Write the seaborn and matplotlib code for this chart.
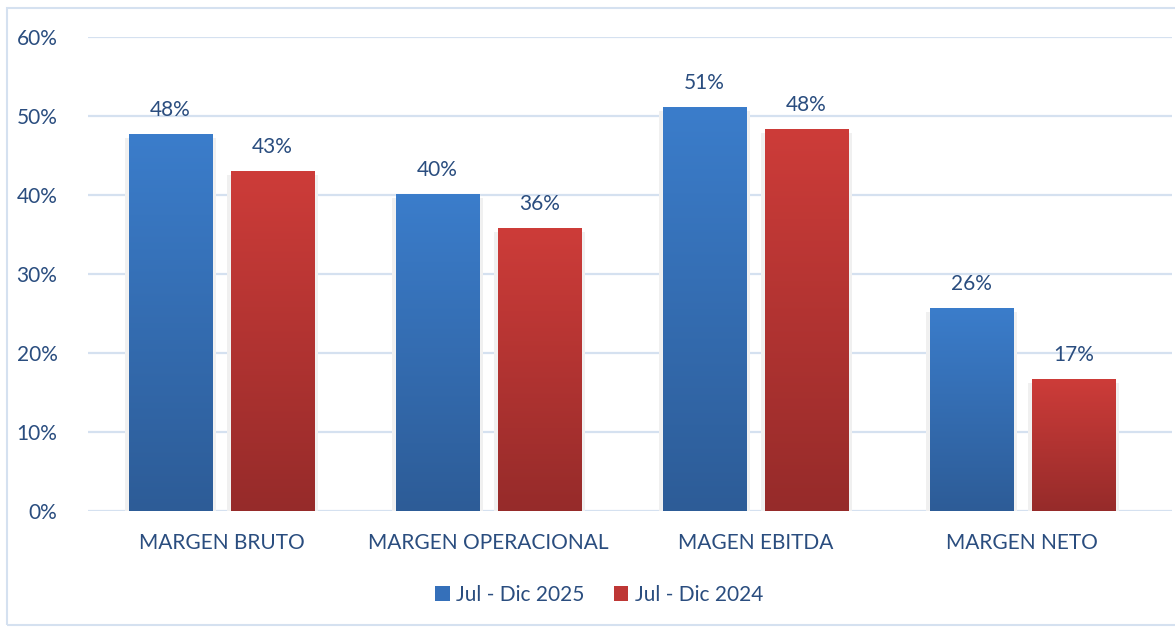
import numpy as np
import pandas as pd
import seaborn as sns
import matplotlib.pyplot as plt
from matplotlib.colors import LinearSegmentedColormap
from matplotlib.patches import Rectangle

categories = ["MARGEN BRUTO", "MARGEN OPERACIONAL", "MAGEN EBITDA", "MARGEN NETO"]
series = ["Jul - Dic 2025", "Jul - Dic 2024"]
values_2025 = [0.477, 0.401, 0.511, 0.257]
values_2024 = [0.430, 0.358, 0.484, 0.167]
labels_2025 = ["48%", "40%", "51%", "26%"]
labels_2024 = ["43%", "36%", "48%", "17%"]
yticks = [0.0, 0.1, 0.2, 0.3, 0.4, 0.5, 0.6]
ytick_labels = ["0%", "10%", "20%", "30%", "40%", "50%", "60%"]

TEXT = "#2A4D7F"
GRID = "#D5E1F0"
gradients = {
    series[0]: ("#2D5C97", "#3B7DCB"),
    series[1]: ("#962B2A", "#CD3C39"),
}
solid = {series[0]: "#3570BA", series[1]: "#BE3735"}

df = pd.DataFrame({
    "cat": categories * 2,
    "serie": [series[0]] * 4 + [series[1]] * 4,
    "val": values_2025 + values_2024,
})

sns.set_theme(style="white")
plt.rcParams["font.family"] = ["Lato", "DejaVu Sans"]

fig = plt.figure(figsize=(11.75, 6.29), dpi=100)
ax = fig.add_axes([0.0749, 0.1876, 0.9225, 0.7536])

sns.barplot(data=df, x="cat", y="val", hue="serie", palette=solid,
            width=0.764, gap=0.186, ax=ax, legend=False, zorder=3)

XLIM = (-0.5, 3.56)
ax.set_xlim(*XLIM)
ax.set_ylim(0, 0.6)

# gradient fill + soft shadow for every bar
for name, cont, labs in zip(series, ax.containers, [labels_2025, labels_2024]):
    cmap = LinearSegmentedColormap.from_list(name, gradients[name])
    for p in cont:
        x0, w, h = p.get_x(), p.get_width(), p.get_height()
        sh = Rectangle((x0 - 0.016, -0.003), w + 0.032, h - 0.002,
                       facecolor="#F0F0F0", edgecolor="none", zorder=2)
        ax.add_patch(sh)
        grad = np.linspace(0, 1, 256).reshape(-1, 1)
        im = ax.imshow(grad, extent=[x0, x0 + w, 0, h], origin="lower",
                       aspect="auto", cmap=cmap, zorder=4)
        im.set_clip_path(p)
    ax.bar_label(cont, labels=labs, padding=10, fontsize=15, color=TEXT)

ax.set_xlim(*XLIM)
ax.set_ylim(0, 0.6)
ax.set_yticks(yticks)
ax.set_yticklabels(ytick_labels)
ax.set_xlabel("")
ax.set_ylabel("")
ax.yaxis.grid(True, color=GRID, linewidth=1.6, zorder=0)
ax.set_axisbelow(True)
for s in ax.spines.values():
    s.set_visible(False)
ax.tick_params(axis="y", length=0, pad=22, labelsize=15, labelcolor=TEXT)
ax.tick_params(axis="x", length=0, pad=16, labelsize=15, labelcolor=TEXT)

handles = [Rectangle((0, 0), 1, 1, facecolor=solid[s], edgecolor="none") for s in series]
fig.legend(handles, series, loc="center", bbox_to_anchor=(0.51, 0.054), ncol=2,
           frameon=False, fontsize=15, labelcolor=TEXT, handlelength=0.7,
           handleheight=0.7, handletextpad=0.3, columnspacing=1.4)

fig.patches.append(Rectangle((0.006, 0.006), 1.2, 0.981, transform=fig.transFigure,
                             facecolor="none", edgecolor=GRID, linewidth=1.5))

fig.savefig("out.png", dpi=100)
